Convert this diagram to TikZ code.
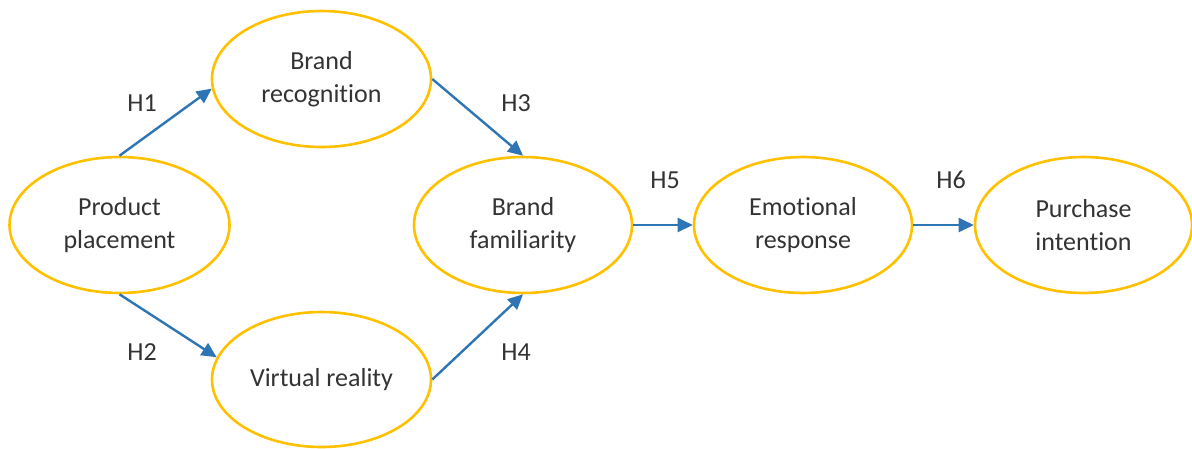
\documentclass[tikz,border=0pt]{standalone}
\usepackage{fontspec}
\setmainfont{Carlito}[Ligatures={NoCommon,NoRare}]
\usetikzlibrary{arrows.meta,shapes.geometric}
\definecolor{ygold}{HTML}{FFC000}
\definecolor{ablue}{HTML}{2E75B6}
\definecolor{txt}{HTML}{333333}
\begin{document}
\begin{tikzpicture}[x=1pt,y=-1pt,
  construct/.style={ellipse,draw=ygold,line width=2.6pt,inner sep=0pt,
    minimum width=218pt,minimum height=136pt,align=center,text=txt,
    font=\fontsize{26}{33}\selectfont},
  hlabel/.style={text=txt,font=\fontsize{26}{33}\selectfont,inner sep=0pt},
  link/.style={draw=ablue,line width=2.4pt,-{Triangle[length=15pt,width=14pt]}}]
\useasboundingbox (0,0) rectangle (1192,448);
\node[construct,minimum width=220pt] (pp) at (119.5,225) {Product\\placement};
\node[construct,minimum width=219pt] (br) at (321.5,79) {Brand\\recognition};
\node[construct,minimum width=219pt,minimum height=135pt] (vr) at (321.5,379.5) {Virtual reality};
\node[construct] (bf) at (523,225) {Brand\\familiarity};
\node[construct] (er) at (803,225) {Emotional\\response};
\node[construct,minimum width=217pt] (pi) at (1083.5,225) {Purchase\\intention};
\draw[link] (pp.north) -- (br.185);
\draw[link] (pp.south) -- (vr.168);
\draw[link] (br.east) -- (bf.north);
\draw[link] (vr.east) -- (bf.south);
\draw[link] (bf.east) -- (er.west);
\draw[link] (er.east) -- (pi.west);
\node[hlabel] (h1) at (142,103) {H1};
\node[hlabel] (h2) at (142,352) {H2};
\node[hlabel] (h3) at (516,103) {H3};
\node[hlabel] (h4) at (516,352) {H4};
\node[hlabel] (h5) at (665,180) {H5};
\node[hlabel] (h6) at (951,180) {H6};
\end{tikzpicture}
\end{document}
